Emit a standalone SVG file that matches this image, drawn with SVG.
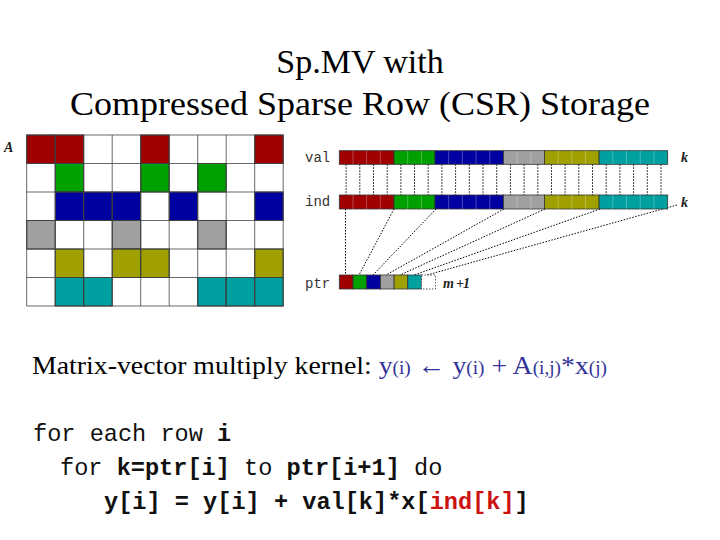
<svg xmlns="http://www.w3.org/2000/svg" width="720" height="540" viewBox="0 0 720 540">
<style>
.t{font-family:"Liberation Serif","Times New Roman",serif;fill:#000}
.m{font-family:"Liberation Mono",monospace;font-size:23.6px;fill:#111}
.b{font-weight:bold}
.r{fill:#a00000}.g{fill:#00a000}.u{fill:#0000a0}.s{fill:#a0a0a0}.o{fill:#a0a000}.c{fill:#00a0a0}
.dl{stroke:#000;stroke-width:1;stroke-dasharray:1.5,1.5;fill:none}
.lab{font-family:"Liberation Mono",monospace;font-size:14px;fill:#333}
.k{font-family:"Liberation Serif",serif;font-style:italic;font-weight:bold;font-size:14px;fill:#222}
</style>
<rect width="720" height="540" fill="#fff"/>
<g id="title">
<text class="t" x="360" y="73" font-size="34" text-anchor="middle">Sp.MV with</text>
<text class="t" x="360" y="115" font-size="34" text-anchor="middle" textLength="580" lengthAdjust="spacingAndGlyphs">Compressed Sparse Row (CSR) Storage</text>
</g>
<g id="matrix">
<text class="k" x="4" y="152" font-size="11">A</text>
<g stroke="#333" stroke-width="1">
<rect x="26.7" y="135" width="28.5" height="28.5" class="r"/><rect x="55.2" y="135" width="28.5" height="28.5" class="r"/><rect x="140.7" y="135" width="28.5" height="28.5" class="r"/><rect x="254.7" y="135" width="28.5" height="28.5" class="r"/>
<rect x="55.2" y="163.5" width="28.5" height="28.5" class="g"/><rect x="140.7" y="163.5" width="28.5" height="28.5" class="g"/><rect x="197.7" y="163.5" width="28.5" height="28.5" class="g"/>
<rect x="55.2" y="192" width="28.5" height="28.5" class="u"/><rect x="83.7" y="192" width="28.5" height="28.5" class="u"/><rect x="112.2" y="192" width="28.5" height="28.5" class="u"/><rect x="169.2" y="192" width="28.5" height="28.5" class="u"/><rect x="254.7" y="192" width="28.5" height="28.5" class="u"/>
<rect x="26.7" y="220.5" width="28.5" height="28.5" class="s"/><rect x="112.2" y="220.5" width="28.5" height="28.5" class="s"/><rect x="197.7" y="220.5" width="28.5" height="28.5" class="s"/>
<rect x="55.2" y="249" width="28.5" height="28.5" class="o"/><rect x="112.2" y="249" width="28.5" height="28.5" class="o"/><rect x="140.7" y="249" width="28.5" height="28.5" class="o"/><rect x="254.7" y="249" width="28.5" height="28.5" class="o"/>
<rect x="55.2" y="277.5" width="28.5" height="28.5" class="c"/><rect x="83.7" y="277.5" width="28.5" height="28.5" class="c"/><rect x="197.7" y="277.5" width="28.5" height="28.5" class="c"/><rect x="226.2" y="277.5" width="28.5" height="28.5" class="c"/><rect x="254.7" y="277.5" width="28.5" height="28.5" class="c"/>
</g>
<path d="M26.7 135V306M55.2 135V306M83.7 135V306M112.2 135V306M140.7 135V306M169.2 135V306M197.7 135V306M226.2 135V306M254.7 135V306M283.2 135V306M26.7 135H283.2M26.7 163.5H283.2M26.7 192H283.2M26.7 220.5H283.2M26.7 249H283.2M26.7 277.5H283.2M26.7 306H283.2" stroke="#444" stroke-width="1" fill="none" opacity="0.8"/>
</g>
<g id="connectors">
<path class="dl" d="M346.1 164.3V195M359.8 164.3V195M373.5 164.3V195M387.2 164.3V195M400.9 164.3V195M414.5 164.3V195M428.2 164.3V195M441.9 164.3V195M455.6 164.3V195M469.3 164.3V195M483 164.3V195M496.7 164.3V195M510.4 164.3V195M524.1 164.3V195M537.8 164.3V195M551.5 164.3V195M565.1 164.3V195M578.8 164.3V195M592.5 164.3V195M606.2 164.3V195M619.9 164.3V195M633.6 164.3V195M647.3 164.3V195M661 164.3V195"/>
<path class="dl" d="M345.5 209V275M394 209L359 275M436 209L373 275M504 209L386 275M545 209L400 275M600 209L414 275M677 205L427 275"/>
</g>
<g id="val">
<text class="lab" x="305" y="162">val</text>
<g stroke="#333" stroke-width="0.8">
<rect x="339.3" y="150.7" width="54.7" height="13.6" class="r"/><rect x="394" y="150.7" width="41" height="13.6" class="g"/><rect x="435" y="150.7" width="68.4" height="13.6" class="u"/><rect x="503.4" y="150.7" width="41" height="13.6" class="s"/><rect x="544.4" y="150.7" width="54.7" height="13.6" class="o"/><rect x="599.1" y="150.7" width="68.6" height="13.6" class="c"/>
</g>
<path d="M353 150.7v13.6M366.6 150.7v13.6M380.3 150.7v13.6M407.7 150.7v13.6M421.4 150.7v13.6M448.7 150.7v13.6M462.4 150.7v13.6M476.1 150.7v13.6M489.8 150.7v13.6M517.1 150.7v13.6M530.8 150.7v13.6M558.1 150.7v13.6M571.8 150.7v13.6M585.5 150.7v13.6M612.8 150.7v13.6M626.5 150.7v13.6M640.2 150.7v13.6M653.9 150.7v13.6" stroke="#fff" stroke-opacity="0.35" stroke-width="0.8"/>
<text class="k" x="681" y="162">k</text>
</g>
<g id="ind">
<text class="lab" x="305" y="206">ind</text>
<g stroke="#333" stroke-width="0.8">
<rect x="339.3" y="195" width="54.7" height="14" class="r"/><rect x="394" y="195" width="41" height="14" class="g"/><rect x="435" y="195" width="68.4" height="14" class="u"/><rect x="503.4" y="195" width="41" height="14" class="s"/><rect x="544.4" y="195" width="54.7" height="14" class="o"/><rect x="599.1" y="195" width="68.6" height="14" class="c"/>
</g>
<path d="M353 195v14M366.6 195v14M380.3 195v14M407.7 195v14M421.4 195v14M448.7 195v14M462.4 195v14M476.1 195v14M489.8 195v14M517.1 195v14M530.8 195v14M558.1 195v14M571.8 195v14M585.5 195v14M612.8 195v14M626.5 195v14M640.2 195v14M653.9 195v14" stroke="#fff" stroke-opacity="0.35" stroke-width="0.8"/>
<text class="k" x="681" y="207">k</text>
</g>
<g id="ptr">
<text class="lab" x="305" y="288">ptr</text>
<g stroke="#333" stroke-width="0.8">
<rect x="339.3" y="275" width="13.7" height="14" class="r"/><rect x="353" y="275" width="13.7" height="14" class="g"/><rect x="366.7" y="275" width="13.7" height="14" class="u"/><rect x="380.4" y="275" width="13.7" height="14" class="s"/><rect x="394.1" y="275" width="13.7" height="14" class="o"/><rect x="407.8" y="275" width="13.7" height="14" class="c"/><rect x="421.5" y="275" width="14" height="14" fill="#fff" stroke-dasharray="1.5,1.5"/>
</g>
<text class="k" x="443" y="288">m</text><text class="k" x="456" y="288" font-weight="normal" fill="#999">+</text><text class="k" x="463" y="288">1</text>
</g>
<g id="kernel">
<text class="t" x="32" y="374" font-size="26" textLength="575" lengthAdjust="spacingAndGlyphs">Matrix-vector multiply kernel: <tspan fill="#333399">y<tspan font-size="18">(i)</tspan> ← y<tspan font-size="18">(i)</tspan> + A<tspan font-size="18">(i,j)</tspan>*x<tspan font-size="18">(j)</tspan></tspan></text>
</g>
<g id="code">
<text class="m" x="33" y="441">for each row <tspan class="b">i</tspan></text>
<text class="m" x="60" y="475">for <tspan class="b">k=ptr[i]</tspan> to <tspan class="b">ptr[i+1]</tspan> do</text>
<text class="m b" x="104" y="509">y[i] = y[i] + val[k]*x[<tspan fill="#cc1111">ind[k]</tspan>]</text>
</g>
</svg>
